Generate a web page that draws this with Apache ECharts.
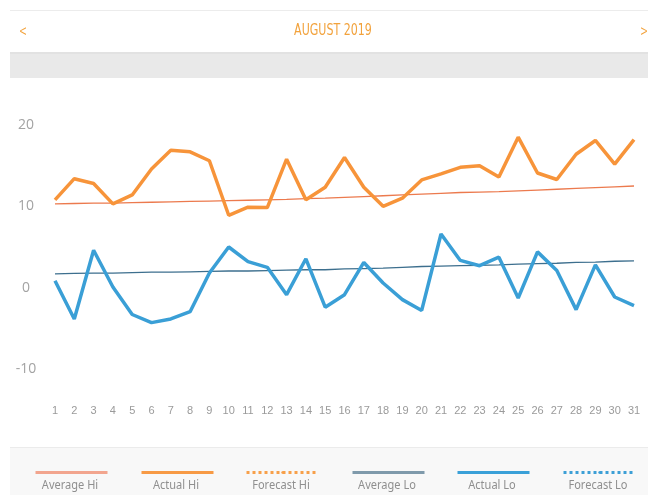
<!DOCTYPE html>
<html>
<head>
<meta charset="utf-8">
<script src="https://cdn.jsdelivr.net/npm/echarts@6/dist/echarts.min.js"></script>
<style>
html,body{margin:0;padding:0;background:#fff;}
#chart{width:648px;height:495px;}
</style>
</head>
<body>
<div id="chart"></div>
<script>
const days = ['1','2','3','4','5','6','7','8','9','10','11','12','13','14','15','16','17','18','19','20','21','22','23','24','25','26','27','28','29','30','31'];
const yTicks = [-10, 0, 10, 20];
const averageHi = [10.3,10.35,10.4,10.4,10.45,10.5,10.55,10.6,10.65,10.7,10.75,10.8,10.85,10.95,11.0,11.1,11.2,11.3,11.4,11.5,11.6,11.7,11.75,11.8,11.9,12.0,12.1,12.2,12.3,12.4,12.5];
const actualHi = [10.8,13.4,12.8,10.3,11.4,14.6,16.9,16.7,15.6,8.9,9.9,9.85,15.8,10.8,12.35,16.0,12.35,10.0,11.0,13.25,14.0,14.8,15.0,13.6,18.5,14.1,13.3,16.4,18.1,15.2,18.2];
const forecastHi = [];
const averageLo = [1.7,1.75,1.8,1.8,1.85,1.9,1.9,1.95,2.0,2.05,2.05,2.1,2.15,2.2,2.2,2.3,2.35,2.4,2.5,2.6,2.65,2.7,2.75,2.8,2.9,2.95,3.0,3.1,3.15,3.25,3.3];
const actualLo = [0.86,-3.85,4.6,0.08,-3.3,-4.3,-3.85,-2.95,1.8,5.0,3.2,2.5,-0.86,3.55,-2.4,-0.86,3.1,0.57,-1.47,-2.8,6.6,3.35,2.7,3.75,-1.27,4.4,2.1,-2.7,2.8,-1.15,-2.2];
const forecastLo = [];
const legendNames = ['Average Hi','Actual Hi','Forecast Hi','Average Lo','Actual Lo','Forecast Lo'];
const title = 'AUGUST 2019';

const chart = echarts.init(document.getElementById('chart'), null, {renderer:'canvas'});

const legendCenters = [70, 176, 281, 387, 492, 598];
const legendColors = ['#f2a58e','#f79a45','#f7a04a','#7f9aab','#3aa0d8','#3d9fd6'];
const legendTypes = ['solid','solid','dotted','solid','solid','dotted'];

const legends = legendNames.map((n,i)=>({
  data:[n], left: legendCenters[i]-36, top: 471, itemWidth:72, itemHeight:3,
  padding:0, formatter: ()=>'', selectedMode:false,
  lineStyle:{width:3, color: legendColors[i], type: legendTypes[i]},
  textStyle:{fontSize:1}
}));

const graphics = [
  {type:'rect', shape:{x:10,y:10,width:638,height:1}, style:{fill:'#ececec'}, z:-10},
  {type:'rect', shape:{x:10,y:52,width:638,height:26}, style:{fill:'#e9e9e9'}, z:-10},
  {type:'rect', shape:{x:10,y:52,width:638,height:2}, style:{fill:'#e2e2e2'}, z:-9},
  {type:'rect', shape:{x:10,y:448,width:638,height:47}, style:{fill:'#f8f8f8'}, z:-10},
  {type:'rect', shape:{x:10,y:447,width:638,height:1}, style:{fill:'#ebebeb'}, z:-9},
  {type:'text', x:333, y:31, scaleX:0.82, style:{text:title, fill:'#f2a23c', font:'15px "Liberation Sans Narrow", "DejaVu Sans Condensed", sans-serif', textAlign:'center', textVerticalAlign:'middle'}},
  {type:'text', x:23, y:32, scaleX:0.8, style:{text:'<', fill:'#f2a23c', font:'15px "Liberation Sans Narrow", sans-serif', textAlign:'center', textVerticalAlign:'middle'}},
  {type:'text', x:644, y:32, scaleX:0.8, style:{text:'>', fill:'#f2a23c', font:'15px "Liberation Sans Narrow", sans-serif', textAlign:'center', textVerticalAlign:'middle'}}
];
legendNames.forEach((n,i)=>{
  graphics.push({type:'text', x:legendCenters[i], y:486, scaleX:0.92, style:{text:n, fill:'#8f8f8f', font:'12px "Noto Sans", sans-serif', textAlign:'center', textVerticalAlign:'middle'}});
});

const option = {
  animation:false,
  backgroundColor:'#ffffff',
  legend: legends,
  graphic: graphics,
  grid:{left:55, right:14, top:125, bottom:126},
  xAxis:{
    type:'category', data:days, boundaryGap:false,
    axisLine:{show:false}, axisTick:{show:false}, splitLine:{show:false},
    axisLabel:{color:'#9a9a9a', fontSize:11, fontFamily:'"Liberation Sans Narrow", sans-serif', margin:36, interval:0}
  },
  yAxis:{
    type:'value', min:yTicks[0], max:yTicks[yTicks.length-1], interval:10,
    axisLine:{show:false}, axisTick:{show:false}, splitLine:{show:false},
    axisLabel:{color:'#a3a3a3', fontSize:14, fontFamily:'"Open Sans", sans-serif', align:'center', margin:29}
  },
  series:[
    {name:'Average Hi', type:'line', data:averageHi, symbol:'none', lineStyle:{color:'#ec7a4e', width:1.3}, itemStyle:{color:'#f2a58e'}, z:2},
    {name:'Average Lo', type:'line', data:averageLo, symbol:'none', lineStyle:{color:'#3d6f8e', width:1.3}, itemStyle:{color:'#7f9aab'}, z:2},
    {name:'Forecast Hi', type:'line', data:forecastHi, symbol:'none', lineStyle:{color:'#f7a04a', width:3, type:'dotted'}, itemStyle:{color:'#f7a04a'}, z:3},
    {name:'Forecast Lo', type:'line', data:forecastLo, symbol:'none', lineStyle:{color:'#3d9fd6', width:3, type:'dotted'}, itemStyle:{color:'#3d9fd6'}, z:3},
    {name:'Actual Hi', type:'line', data:actualHi, symbol:'none', lineStyle:{color:'#f7943a', width:3.5}, itemStyle:{color:'#f79a45'}, z:4},
    {name:'Actual Lo', type:'line', data:actualLo, symbol:'none', lineStyle:{color:'#3a9fd6', width:3.5}, itemStyle:{color:'#3aa0d8'}, z:4}
  ]
};
chart.setOption(option);
</script>
</body>
</html>
